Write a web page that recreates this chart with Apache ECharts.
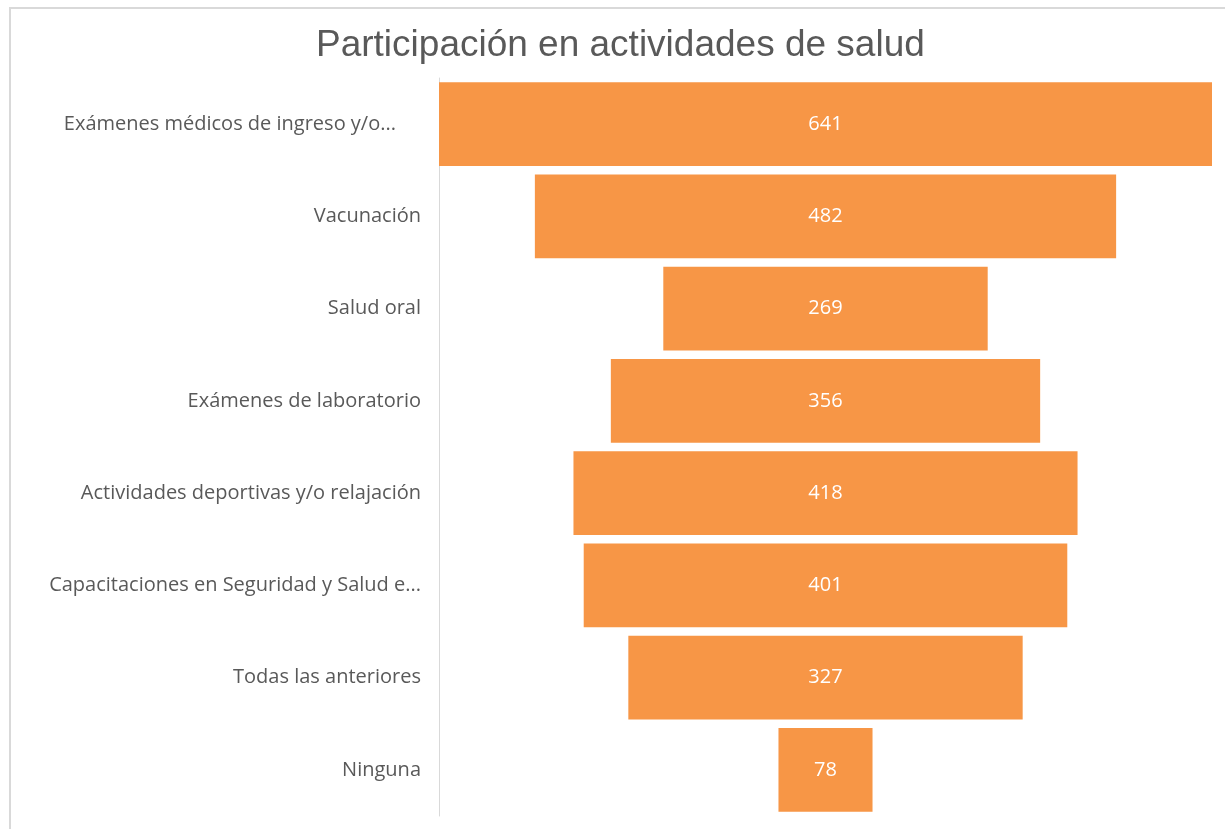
<!DOCTYPE html>
<html>
<head>
<meta charset="utf-8">
<script src="https://cdn.jsdelivr.net/npm/echarts@6/dist/echarts.min.js"></script>
<style>
  html, body { margin: 0; padding: 0; background: #fff; }
  #frame {
    position: absolute; left: 9px; top: 7px; width: 1230px; height: 840px;
    border: 2px solid #d9d9d9; box-sizing: border-box;
  }
  #chart { position: absolute; left: 0; top: 0; width: 1225px; height: 829px; }
</style>
</head>
<body>
<div id="frame"></div>
<div id="chart"></div>
<script>
const categories = [
  'Exámenes médicos de ingreso y/o...',
  'Vacunación',
  'Salud oral',
  'Exámenes de laboratorio',
  'Actividades deportivas y/o relajación',
  'Capacitaciones en Seguridad y Salud e...',
  'Todas las anteriores',
  'Ninguna'
];
const values = [641, 482, 269, 356, 418, 401, 327, 78];

const maxValue = Math.max(...values);
// transparent offsets so each bar sits centred like a funnel
const offsets = values.map(v => (maxValue - v) / 2);

const chart = echarts.init(document.getElementById('chart'));
chart.setOption({
  animation: false,
  title: {
    text: 'Participación en actividades de salud',
    left: 311,
    top: 22,
    textStyle: {
      fontFamily: 'Liberation Sans',
      fontSize: 37,
      fontWeight: 'normal',
      color: '#595959'
    }
  },
  grid: {
    left: 439,
    right: 13,
    top: 78,
    bottom: 13
  },
  xAxis: {
    type: 'value',
    min: 0,
    max: maxValue,
    show: false
  },
  yAxis: {
    type: 'category',
    inverse: true,
    data: categories,
    axisLine: { show: true, lineStyle: { color: '#d9d9d9', width: 1 } },
    axisTick: { show: false },
    axisLabel: {
      margin: 18,
      fontFamily: 'Open Sans',
      fontSize: 20,
      color: '#595959',
      // first label is cut by Excel with some room left after the dots
      formatter: (val, idx) => idx === 0 ? '{cut|' + val + '}' : val,
      rich: {
        cut: {
          fontFamily: 'Open Sans',
          fontSize: 20,
          color: '#595959',
          padding: [0, 25, 0, 0]
        }
      }
    }
  },
  series: [
    {
      type: 'bar',
      stack: 'funnel',
      data: offsets,
      itemStyle: { color: 'transparent' },
      silent: true
    },
    {
      type: 'bar',
      stack: 'funnel',
      data: values,
      barCategoryGap: '9%',
      itemStyle: { color: '#F79646' },
      label: {
        show: true,
        position: 'inside',
        fontFamily: 'Open Sans',
        fontSize: 20,
        color: '#ffffff'
      }
    }
  ]
});
</script>
</body>
</html>
